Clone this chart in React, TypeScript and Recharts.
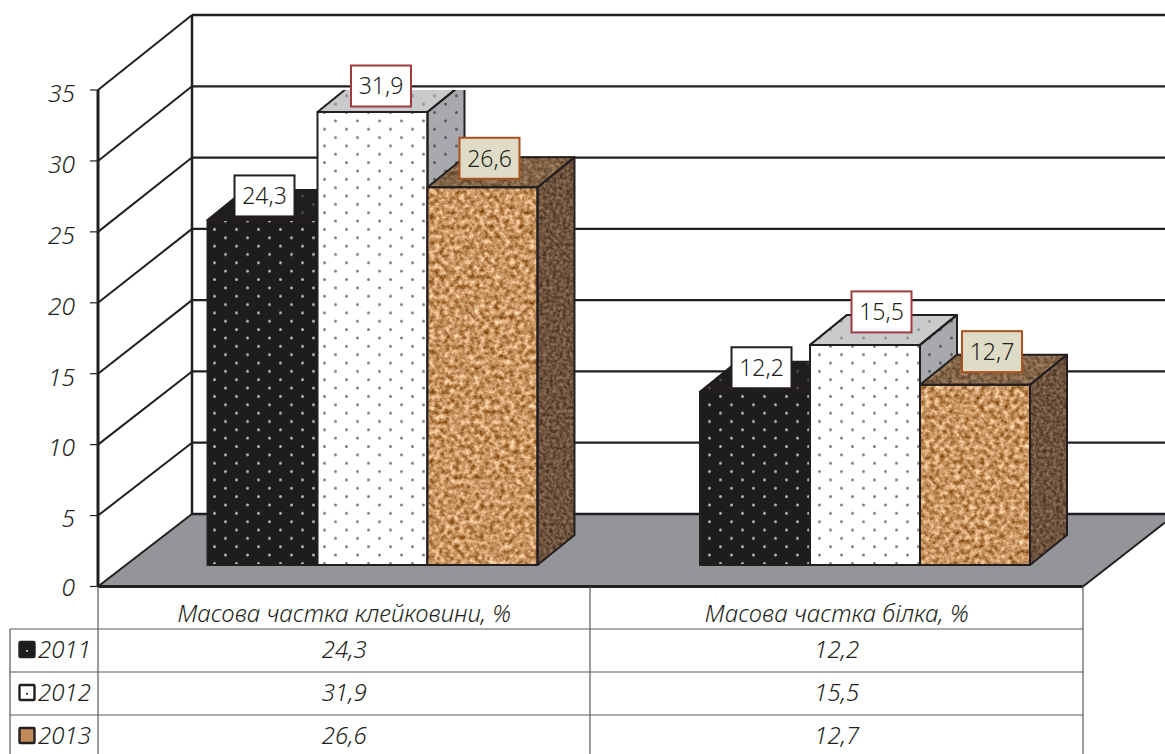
import { ComposedChart, Bar, Line, XAxis, YAxis, CartesianGrid, LabelList } from 'recharts';

const categories = ['Масова частка клейковини, %', 'Масова частка білка, %'];
const years = ['2011', '2012', '2013'];
const values2011 = [24.3, 12.2];
const values2012 = [31.9, 15.5];
const values2013 = [26.6, 12.7];
const yTicks = [0, 5, 10, 15, 20, 25, 30, 35];

const tableData = categories.map((name, i) => ({
  name,
  y2011: values2011[i],
  y2012: values2012[i],
  y2013: values2013[i],
}));
const allValues = [values2011, values2012, values2013];

const W = 1165;
const H = 754;
const INK = '#231f20';
const FONT = '"Noto Sans", "Open Sans", sans-serif';
// the room: front plane of the axis, and where the same lines land on the back wall
const FRONT_TOP = 90;
const FRONT_BOTTOM = 586.5;
const BACK_TOP = 15;
const BACK_BOTTOM = 514;
const WALL_DX = 94;
// depth of the boxes standing in it
const BOX_DX = 37;
const BOX_DY = 30;
const BOX_SHIFT = 28.5;

const fmt = (v: number) => v.toFixed(1).replace('.', ',');
const toBackY = (y: number) =>
  BACK_BOTTOM - ((FRONT_BOTTOM - y) * (BACK_BOTTOM - BACK_TOP)) / (FRONT_BOTTOM - FRONT_TOP);

function Defs() {
  const dots = (id: string, bg: string, dot: string, r = 1.5) => (
    <pattern id={id} width={22} height={16.7} patternUnits="userSpaceOnUse">
      <rect width={22} height={16.7} fill={bg} />
      <circle cx={5.5} cy={4} r={r} fill={dot} />
      <circle cx={16.5} cy={12.3} r={r} fill={dot} />
    </pattern>
  );
  const cork = (id: string, freq: number, seed: number, matrix: string) => (
    <filter id={id} x="-5%" y="-5%" width="110%" height="110%" colorInterpolationFilters="sRGB">
      <feTurbulence type="fractalNoise" baseFrequency={freq} numOctaves={3} seed={seed} />
      <feColorMatrix type="matrix" values={matrix} />
      <feComposite in2="SourceAlpha" operator="in" />
    </filter>
  );
  return (
    <defs>
      {dots('dotsBlack', '#1f1c1d', '#b5b5b5')}
      {dots('dotsBlackTop', '#201d1e', '#4a4a4a')}
      {dots('dotsWhite', '#ffffff', '#7d7d7d')}
      {dots('dotsWhiteTop', '#c9cacc', '#8f9092')}
      {dots('dotsWhiteSide', '#a7a9ac', '#55565a')}
      {cork('cork', 0.2, 7, '0.8 0 0 0 0.38  0.9 0 0 0 0.13  1.0 0 0 0 -0.12  0 0 0 0 1')}
      {cork('corkTop', 0.25, 5, '0.5 0 0 0 0.26  0.45 0 0 0 0.17  0.4 0 0 0 0.08  0 0 0 0 1')}
      {cork('corkSide', 0.3, 3, '0.5 0 0 0 0.18  0.45 0 0 0 0.1  0.4 0 0 0 0.04  0 0 0 0 1')}
    </defs>
  );
}

// one back-wall line plus its diagonal on the side wall, the floor comes with the 0 line
function WallLine(props: any) {
  const { x1, x2, y1 } = props;
  const isFloor = Math.abs(y1 - FRONT_BOTTOM) < 2;
  const backX = x1 + WALL_DX;
  const backY = toBackY(y1);
  return (
    <g>
      {isFloor && (
        <>
          <polygon
            points={`${x1},${y1} ${backX},${backY} ${W},${backY} ${W},${y1 - 64} ${x2},${y1}`}
            fill="#939598"
          />
          <line x1={backX} y1={backY} x2={backX} y2={BACK_TOP} stroke={INK} strokeWidth={2.5} />
          <line x1={x2} y1={y1} x2={W} y2={y1 - 64} stroke={INK} strokeWidth={2} />
        </>
      )}
      <line x1={x1} y1={y1} x2={backX} y2={backY} stroke={INK} strokeWidth={2} />
      <line x1={backX} y1={backY} x2={W} y2={backY} stroke={INK} strokeWidth={2.3} />
    </g>
  );
}

function YTick(props: any) {
  const { x, y, payload } = props;
  return (
    <text
      x={x}
      y={y + (payload.value === 0 ? 1 : 3)}
      dy="0.36em"
      textAnchor="end"
      fill={INK}
      style={{ fontFamily: FONT, fontSize: 24.5, fontStyle: 'italic', fontWeight: 300 }}
    >
      {payload.value}
    </text>
  );
}

function Swatch({ y, index }: { y: number; index: number }) {
  const fills = ['#1f1c1d', '#ffffff', '#c08a58'];
  return (
    <g>
      <rect x={19.5} y={y - 8} width={15} height={15} rx={1} fill={fills[index]} stroke={INK} strokeWidth={2.4} />
      {index < 2 && <rect x={26} y={y} width={2} height={1.6} fill={index === 0 ? '#ddd' : INK} />}
    </g>
  );
}

// category name and the data table rows underneath it
function TableTick(props: any) {
  const { x, payload, index } = props;
  const rowY = [629, 672, 715];
  const colLeft = 98;
  const colMid = 590;
  const colRight = 1083;
  const textStyle = { fontFamily: FONT, fontSize: 24, fontStyle: 'italic' as const, fontWeight: 300 };
  return (
    <g>
      {index === 0 && (
        <g stroke="#58595b" strokeWidth={1.2}>
          <line x1={colLeft} y1={FRONT_BOTTOM} x2={colLeft} y2={H} />
          <line x1={colMid} y1={FRONT_BOTTOM} x2={colMid} y2={H} />
          <line x1={colRight} y1={FRONT_BOTTOM} x2={colRight} y2={H} />
          <line x1={10} y1={rowY[0]} x2={10} y2={H} />
          {rowY.map((ry) => (
            <line key={ry} x1={10} y1={ry} x2={colRight} y2={ry} />
          ))}
        </g>
      )}
      <text x={x} y={622} textAnchor="middle" fill={INK} style={textStyle}>
        {payload.value}
      </text>
      {allValues.map((vals, row) => (
        <text key={row} x={x} y={rowY[row] + 29} textAnchor="middle" fill={INK} style={textStyle}>
          {fmt(vals[index])}
        </text>
      ))}
      {index === 0 &&
        years.map((year, row) => (
          <g key={year}>
            <Swatch y={rowY[row] + 21} index={row} />
            <text x={91} y={rowY[row] + 29} textAnchor="end" fill={INK} style={textStyle}>
              {year}
            </text>
          </g>
        ))}
    </g>
  );
}

function makeBox(front: string, top: string, side: string, cork = false) {
  return function Box(props: any) {
    const { x, y, width, height } = props;
    const l = x + BOX_SHIFT;
    const r = l + width;
    const b = y + height;
    const frontPts = `${l},${y} ${r},${y} ${r},${b} ${l},${b}`;
    const topPts = `${l},${y} ${l + BOX_DX},${y - BOX_DY} ${r + BOX_DX},${y - BOX_DY} ${r},${y}`;
    const sidePts = `${r},${y} ${r + BOX_DX},${y - BOX_DY} ${r + BOX_DX},${b - BOX_DY} ${r},${b}`;
    const line = { fill: 'none', stroke: INK, strokeWidth: 2, strokeLinejoin: 'round' as const };
    return (
      <g>
        <polygon points={sidePts} fill={cork ? '#000' : side} filter={cork ? 'url(#corkSide)' : undefined} />
        <polygon points={topPts} fill={cork ? '#000' : top} filter={cork ? 'url(#corkTop)' : undefined} />
        <polygon points={frontPts} fill={cork ? '#000' : front} filter={cork ? 'url(#cork)' : undefined} />
        <polygon points={sidePts} {...line} />
        <polygon points={topPts} {...line} />
        <polygon points={frontPts} {...line} />
      </g>
    );
  };
}

const Box2011 = makeBox('url(#dotsBlack)', 'url(#dotsBlackTop)', 'url(#dotsBlackTop)');
const Box2012 = makeBox('url(#dotsWhite)', 'url(#dotsWhiteTop)', 'url(#dotsWhiteSide)');
const Box2013 = makeBox('#000', '#000', '#000', true);

// how far each callout sits from the centre of its box top, hand placed like the original
const calloutNudge = [
  [[2, -24], [6.5, -24]],
  [[8.5, -26], [16.5, -33]],
  [[7, -29], [17, -33]],
];

function makeCallout(series: number, fill: string, stroke: string) {
  return function Callout(props: any) {
    const { x, y, width, value, index } = props;
    const [nx, ny] = calloutNudge[series][index];
    const cx = x + BOX_SHIFT + width / 2 + nx;
    const cy = y + ny;
    return (
      <g>
        <rect x={cx - 30} y={cy - 20.5} width={60} height={41} fill={fill} stroke={stroke} strokeWidth={2} />
        <text
          x={cx}
          y={cy}
          dy="0.36em"
          textAnchor="middle"
          fill={INK}
          style={{ fontFamily: FONT, fontSize: 23, fontWeight: 300 }}
        >
          {fmt(Number(value))}
        </text>
      </g>
    );
  };
}

export default function App() {
  return (
    <div style={{ position: 'absolute', left: 0, top: 0, width: W, height: H, overflow: 'hidden', background: '#fff' }}>
      <ComposedChart
        width={W}
        height={H}
        data={tableData}
        margin={{ top: FRONT_TOP, right: 82, bottom: 0, left: 0 }}
        barSize={110}
        barGap={0}
      >
        <Defs />
        <CartesianGrid vertical={false} horizontal={WallLine as any} />
        <XAxis
          dataKey="name"
          height={H - FRONT_BOTTOM}
          interval={0}
          tickLine={false}
          axisLine={{ stroke: INK, strokeWidth: 3 }}
          tick={TableTick as any}
        />
        <YAxis
          width={98}
          domain={[0, 35]}
          ticks={yTicks}
          interval={0}
          tickSize={8}
          tickMargin={15}
          axisLine={{ stroke: INK, strokeWidth: 3 }}
          tickLine={{ stroke: INK, strokeWidth: 1.2 }}
          tick={YTick as any}
        />
        <YAxis yAxisId="boxes" hide domain={[-1.514, 33.45]} allowDataOverflow />
        {/* invisible, only here so the visible axis has a series and keeps its ticks */}
        <Line dataKey="y2012" stroke="none" dot={false} activeDot={false} isAnimationActive={false} />
        <Bar dataKey="y2011" yAxisId="boxes" shape={Box2011 as any} isAnimationActive={false}>
          <LabelList dataKey="y2011" content={makeCallout(0, '#ffffff', INK) as any} />
        </Bar>
        <Bar dataKey="y2012" yAxisId="boxes" shape={Box2012 as any} isAnimationActive={false}>
          <LabelList dataKey="y2012" content={makeCallout(1, '#ffffff', '#9e3d3f') as any} />
        </Bar>
        <Bar dataKey="y2013" yAxisId="boxes" shape={Box2013 as any} isAnimationActive={false}>
          <LabelList dataKey="y2013" content={makeCallout(2, '#dedcc6', '#a9521f') as any} />
        </Bar>
      </ComposedChart>
    </div>
  );
}
